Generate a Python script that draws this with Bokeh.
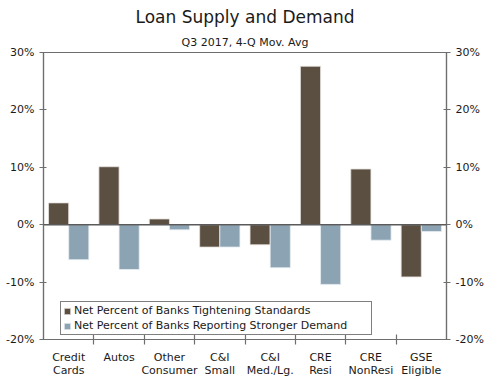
from bokeh.plotting import figure
from bokeh.models import (Range1d, LinearAxis, FixedTicker, PrintfTickFormatter,
                          Span, Title, Legend, LegendItem, ColumnDataSource)
from bokeh.embed import file_html
from bokeh.resources import INLINE

categories = ["Credit\nCards", "Autos", "Other\nConsumer", "C&I\nSmall",
              "C&I\nMed./Lg.", "CRE\nResi", "CRE\nNonResi", "GSE\nEligible"]
tightening = [3.8, 10.1, 1.0, -3.9, -3.5, 27.6, 9.7, -9.1]
demand = [-6.1, -7.8, -0.9, -3.9, -7.5, -10.4, -2.7, -1.2]
y_ticks = [-20, -10, 0, 10, 20, 30]

FONT = "DejaVu Sans"
BROWN = "#5B4F42"
BLUE = "#8CA3B3"
AXC = "#6e6e6e"

n = len(categories)
centers = [i + 0.5 for i in range(n)]
src = ColumnDataSource(dict(
    x1=[c - 0.2 for c in centers], x2=[c + 0.2 for c in centers],
    t=tightening, d=demand))

p = figure(width=484, height=368, frame_width=403, frame_height=287,
           x_range=Range1d(0, n), y_range=Range1d(-20, 30),
           output_backend="svg", toolbar_location=None,
           min_border_left=43, min_border_right=38, min_border_top=0, min_border_bottom=0,
           x_axis_location=None, y_axis_location=None)
p.grid.visible = False
p.outline_line_color = AXC
p.outline_line_width = 1.2

r1 = p.vbar(x="x1", top="t", width=0.4, source=src, fill_color=BROWN,
            line_color="#e6e2de", line_width=0.8)
r2 = p.vbar(x="x2", top="d", width=0.4, source=src, fill_color=BLUE,
            line_color="#e8eef2", line_width=0.8)

p.add_layout(Span(location=0, dimension="width", line_color="#5a5a5a", line_width=1.5))

def style_y(ax):
    ax.ticker = FixedTicker(ticks=y_ticks)
    ax.formatter = PrintfTickFormatter(format="%d%%")
    ax.axis_line_color = AXC
    ax.axis_line_width = 1.2
    ax.major_tick_line_color = AXC
    ax.major_tick_line_width = 1.2
    ax.major_tick_in = 3
    ax.major_tick_out = 4
    ax.minor_tick_line_color = None
    ax.major_label_text_font = FONT
    ax.major_label_text_font_size = "11px"
    ax.major_label_text_color = "#1a1a1a"
    ax.major_label_standoff = 5

ly = LinearAxis(); style_y(ly); p.add_layout(ly, "left")
ry = LinearAxis(); style_y(ry); p.add_layout(ry, "right")

bx = LinearAxis()
bx.ticker = FixedTicker(ticks=centers, minor_ticks=list(range(1, n)))
bx.major_label_overrides = {c: lab for c, lab in zip(centers, categories)}
bx.major_tick_line_color = None
bx.major_tick_in = 0
bx.major_tick_out = 0
bx.minor_tick_line_color = AXC
bx.minor_tick_line_width = 1.2
bx.minor_tick_in = 5
bx.minor_tick_out = 5
bx.axis_line_color = AXC
bx.axis_line_width = 1.2
bx.major_label_text_font = FONT
bx.major_label_text_font_size = "11px"
bx.major_label_text_line_height = 1.0
bx.major_label_text_color = "#1a1a1a"
bx.major_label_standoff = 6
p.add_layout(bx, "below")

legend = Legend(items=[LegendItem(label="Net Percent of Banks Tightening Standards", renderers=[r1]),
                       LegendItem(label="Net Percent of Banks Reporting Stronger Demand", renderers=[r2])],
                location=(17, 4))
legend.label_text_font = FONT
legend.label_text_font_size = "11px"
legend.label_text_color = "#1a1a1a"
legend.glyph_width = 8
legend.glyph_height = 8
legend.label_height = 13
legend.label_standoff = 3
legend.spacing = 2
legend.padding = 2
legend.margin = 0
legend.label_width = 295
legend.border_line_color = "black"
legend.border_line_width = 1
legend.background_fill_alpha = 1
p.add_layout(legend)

p.add_layout(Title(text="Q3 2017, 4-Q Mov. Avg", align="center", text_font=FONT, standoff=7,
                   text_font_size="11px", text_font_style="normal", text_color="#1a1a1a"), "above")
p.add_layout(Title(text="Loan Supply and Demand", align="center", text_font=FONT, standoff=8,
                   text_font_size="17px", text_font_style="normal", text_color="#1a1a1a",
                   text_line_height=1.3), "above")

open("out.html", "w").write(file_html(p, INLINE))
